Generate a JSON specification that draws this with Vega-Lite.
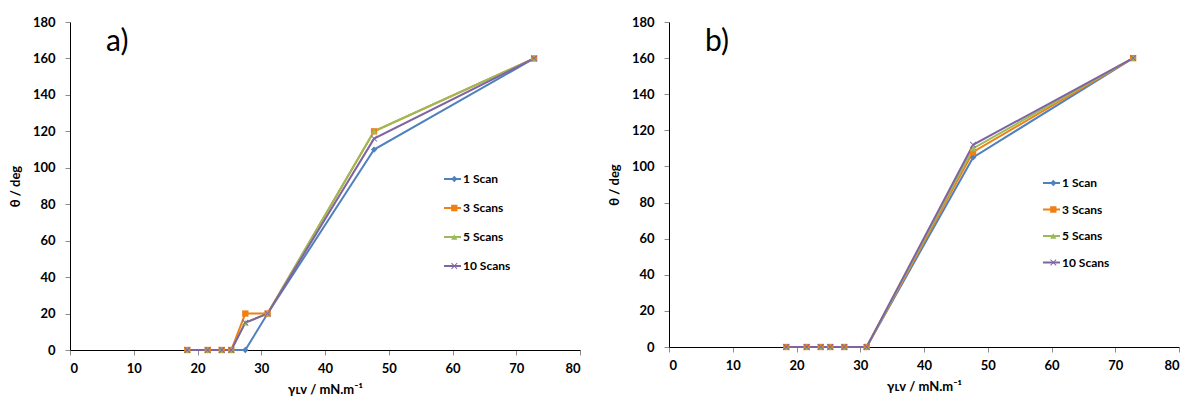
{
  "$schema": "https://vega.github.io/schema/vega-lite/v6.json",
  "padding": {"left": 9, "top": 16, "right": 5, "bottom": 5},
  "spacing": 27,
  "config": {
    "font": "Lato",
    "view": {"stroke": null},
    "axis": {
      "grid": false,
      "domainColor": "#000000",
      "domainWidth": 1,
      "tickColor": "#8c8c8c",
      "tickSize": 5,
      "labelOverlap": false,
      "labelFont": "Lato",
      "labelFontWeight": "bold",
      "labelFontSize": 13,
      "labelColor": "#000000",
      "titleFont": "Lato",
      "titleFontWeight": "bold",
      "titleFontSize": 13,
      "titleColor": "#000000"
    },
    "legend": {
      "padding": 0,
      "labelFont": "Lato",
      "labelFontWeight": "bold",
      "labelFontSize": 12,
      "labelColor": "#000000"
    },
    "title": {"font": "Lato", "fontWeight": "normal", "fontSize": 30, "color": "#000000"}
  },
  "datasets": {
    "a": [
      {"series": "1 Scan", "gamma": 18.4, "theta": 0},
      {"series": "1 Scan", "gamma": 21.6, "theta": 0},
      {"series": "1 Scan", "gamma": 23.8, "theta": 0},
      {"series": "1 Scan", "gamma": 25.3, "theta": 0},
      {"series": "1 Scan", "gamma": 27.5, "theta": 0},
      {"series": "1 Scan", "gamma": 31.0, "theta": 20},
      {"series": "1 Scan", "gamma": 47.7, "theta": 110},
      {"series": "1 Scan", "gamma": 72.8, "theta": 160},
      {"series": "3 Scans", "gamma": 18.4, "theta": 0},
      {"series": "3 Scans", "gamma": 21.6, "theta": 0},
      {"series": "3 Scans", "gamma": 23.8, "theta": 0},
      {"series": "3 Scans", "gamma": 25.3, "theta": 0},
      {"series": "3 Scans", "gamma": 27.5, "theta": 20},
      {"series": "3 Scans", "gamma": 31.0, "theta": 20},
      {"series": "3 Scans", "gamma": 47.7, "theta": 120},
      {"series": "3 Scans", "gamma": 72.8, "theta": 160},
      {"series": "5 Scans", "gamma": 18.4, "theta": 0},
      {"series": "5 Scans", "gamma": 21.6, "theta": 0},
      {"series": "5 Scans", "gamma": 23.8, "theta": 0},
      {"series": "5 Scans", "gamma": 25.3, "theta": 0},
      {"series": "5 Scans", "gamma": 27.5, "theta": 15},
      {"series": "5 Scans", "gamma": 31.0, "theta": 20},
      {"series": "5 Scans", "gamma": 47.7, "theta": 120},
      {"series": "5 Scans", "gamma": 72.8, "theta": 160},
      {"series": "10 Scans", "gamma": 18.4, "theta": 0},
      {"series": "10 Scans", "gamma": 21.6, "theta": 0},
      {"series": "10 Scans", "gamma": 23.8, "theta": 0},
      {"series": "10 Scans", "gamma": 25.3, "theta": 0},
      {"series": "10 Scans", "gamma": 27.5, "theta": 15},
      {"series": "10 Scans", "gamma": 31.0, "theta": 20},
      {"series": "10 Scans", "gamma": 47.7, "theta": 116},
      {"series": "10 Scans", "gamma": 72.8, "theta": 160}
    ],
    "b": [
      {"series": "1 Scan", "gamma": 18.4, "theta": 0},
      {"series": "1 Scan", "gamma": 21.6, "theta": 0},
      {"series": "1 Scan", "gamma": 23.8, "theta": 0},
      {"series": "1 Scan", "gamma": 25.3, "theta": 0},
      {"series": "1 Scan", "gamma": 27.5, "theta": 0},
      {"series": "1 Scan", "gamma": 31.0, "theta": 0},
      {"series": "1 Scan", "gamma": 47.7, "theta": 105},
      {"series": "1 Scan", "gamma": 72.8, "theta": 160},
      {"series": "3 Scans", "gamma": 18.4, "theta": 0},
      {"series": "3 Scans", "gamma": 21.6, "theta": 0},
      {"series": "3 Scans", "gamma": 23.8, "theta": 0},
      {"series": "3 Scans", "gamma": 25.3, "theta": 0},
      {"series": "3 Scans", "gamma": 27.5, "theta": 0},
      {"series": "3 Scans", "gamma": 31.0, "theta": 0},
      {"series": "3 Scans", "gamma": 47.7, "theta": 108},
      {"series": "3 Scans", "gamma": 72.8, "theta": 160},
      {"series": "5 Scans", "gamma": 18.4, "theta": 0},
      {"series": "5 Scans", "gamma": 21.6, "theta": 0},
      {"series": "5 Scans", "gamma": 23.8, "theta": 0},
      {"series": "5 Scans", "gamma": 25.3, "theta": 0},
      {"series": "5 Scans", "gamma": 27.5, "theta": 0},
      {"series": "5 Scans", "gamma": 31.0, "theta": 0},
      {"series": "5 Scans", "gamma": 47.7, "theta": 110},
      {"series": "5 Scans", "gamma": 72.8, "theta": 160},
      {"series": "10 Scans", "gamma": 18.4, "theta": 0},
      {"series": "10 Scans", "gamma": 21.6, "theta": 0},
      {"series": "10 Scans", "gamma": 23.8, "theta": 0},
      {"series": "10 Scans", "gamma": 25.3, "theta": 0},
      {"series": "10 Scans", "gamma": 27.5, "theta": 0},
      {"series": "10 Scans", "gamma": 31.0, "theta": 0},
      {"series": "10 Scans", "gamma": 47.7, "theta": 112},
      {"series": "10 Scans", "gamma": 72.8, "theta": 160}
    ]
  },
  "hconcat": [
    {
      "width": 510,
      "height": 328,
      "data": {"name": "a"},
      "title": {"text": "a)", "anchor": "start", "frame": "group", "orient": "top", "offset": -41, "dx": 36},
      "encoding": {
        "x": {"field": "gamma", "type": "quantitative", "scale": {"domain": [0, 80], "nice": false}, "axis": {"values": [0, 10, 20, 30, 40, 50, 60, 70, 80], "labelOverlap": false, "title": "γʟᴠ / mN.m⁻¹", "labelPadding": 7, "titlePadding": 8}},
        "y": {"field": "theta", "type": "quantitative", "scale": {"domain": [0, 180], "nice": false}, "axis": {"values": [0, 20, 40, 60, 80, 100, 120, 140, 160, 180], "labelOverlap": false, "title": "θ / deg", "labelPadding": 10, "titlePadding": 10}}
      },
      "layer": [
        {
          "mark": {"type": "line", "strokeWidth": 2},
          "encoding": {
            "color": {"field": "series", "type": "nominal",
              "scale": {"domain": ["1 Scan", "3 Scans", "5 Scans", "10 Scans"], "range": ["#4F81BD", "#F07F14", "#9BBB59", "#8064A2"]},
              "legend": {"title": null, "orient": "none", "legendX": 373, "legendY": 150, "symbolType": "stroke", "symbolSize": 289, "symbolStrokeWidth": 2, "clipHeight": 14, "rowPadding": 15, "labelOffset": 1}}
          }
        },
        {
          "mark": {"type": "point", "filled": true, "size": 40, "opacity": 1},
          "encoding": {
            "color": {"field": "series", "type": "nominal",
              "scale": {"domain": ["1 Scan", "3 Scans", "5 Scans", "10 Scans"], "range": ["#4F81BD", "#F07F14", "#9BBB59", "#8064A2"]},
              "legend": {"title": null, "orient": "none", "legendX": 378.3, "legendY": 150, "symbolSize": 40, "clipHeight": 14, "rowPadding": 15, "labelOffset": 12, "labelColor": "transparent"}},
            "shape": {"field": "series", "type": "nominal",
              "scale": {"domain": ["1 Scan", "3 Scans", "5 Scans", "10 Scans"], "range": ["diamond", "square", "triangle-up", "M-1,-0.8L-0.8,-1L0,-0.2L0.8,-1L1,-0.8L0.2,0L1,0.8L0.8,1L0,0.2L-0.8,1L-1,0.8L-0.2,0Z"]},
              "legend": {"title": null, "orient": "none", "legendX": 378.3, "legendY": 150, "symbolSize": 40, "clipHeight": 14, "rowPadding": 15, "labelOffset": 12, "labelColor": "transparent"}}
          }
        }
      ],
      "resolve": {"scale": {"color": "independent", "shape": "independent"}, "legend": {"color": "independent", "shape": "independent"}}
    },
    {
      "width": 510,
      "height": 325,
      "data": {"name": "b"},
      "title": {"text": "b)", "anchor": "start", "frame": "group", "orient": "top", "offset": -41, "dx": 36},
      "encoding": {
        "x": {"field": "gamma", "type": "quantitative", "scale": {"domain": [0, 80], "nice": false}, "axis": {"values": [0, 10, 20, 30, 40, 50, 60, 70, 80], "labelOverlap": false, "title": "γʟᴠ / mN.m⁻¹", "labelPadding": 7, "titlePadding": 8}},
        "y": {"field": "theta", "type": "quantitative", "scale": {"domain": [0, 180], "nice": false}, "axis": {"values": [0, 20, 40, 60, 80, 100, 120, 140, 160, 180], "labelOverlap": false, "title": "θ / deg", "labelPadding": 10, "titlePadding": 10}}
      },
      "layer": [
        {
          "mark": {"type": "line", "strokeWidth": 2},
          "encoding": {
            "color": {"field": "series", "type": "nominal",
              "scale": {"domain": ["1 Scan", "3 Scans", "5 Scans", "10 Scans"], "range": ["#4F81BD", "#F07F14", "#9BBB59", "#8064A2"]},
              "legend": {"title": null, "orient": "none", "legendX": 373, "legendY": 154, "symbolType": "stroke", "symbolSize": 289, "symbolStrokeWidth": 2, "clipHeight": 14, "rowPadding": 12.5, "labelOffset": 1}}
          }
        },
        {
          "mark": {"type": "point", "filled": true, "size": 40, "opacity": 1},
          "encoding": {
            "color": {"field": "series", "type": "nominal",
              "scale": {"domain": ["1 Scan", "3 Scans", "5 Scans", "10 Scans"], "range": ["#4F81BD", "#F07F14", "#9BBB59", "#8064A2"]},
              "legend": {"title": null, "orient": "none", "legendX": 378.3, "legendY": 154, "symbolSize": 40, "clipHeight": 14, "rowPadding": 12.5, "labelOffset": 12, "labelColor": "transparent"}},
            "shape": {"field": "series", "type": "nominal",
              "scale": {"domain": ["1 Scan", "3 Scans", "5 Scans", "10 Scans"], "range": ["diamond", "square", "triangle-up", "M-1,-0.8L-0.8,-1L0,-0.2L0.8,-1L1,-0.8L0.2,0L1,0.8L0.8,1L0,0.2L-0.8,1L-1,0.8L-0.2,0Z"]},
              "legend": {"title": null, "orient": "none", "legendX": 378.3, "legendY": 154, "symbolSize": 40, "clipHeight": 14, "rowPadding": 12.5, "labelOffset": 12, "labelColor": "transparent"}}
          }
        }
      ],
      "resolve": {"scale": {"color": "independent", "shape": "independent"}, "legend": {"color": "independent", "shape": "independent"}}
    }
  ]
}
